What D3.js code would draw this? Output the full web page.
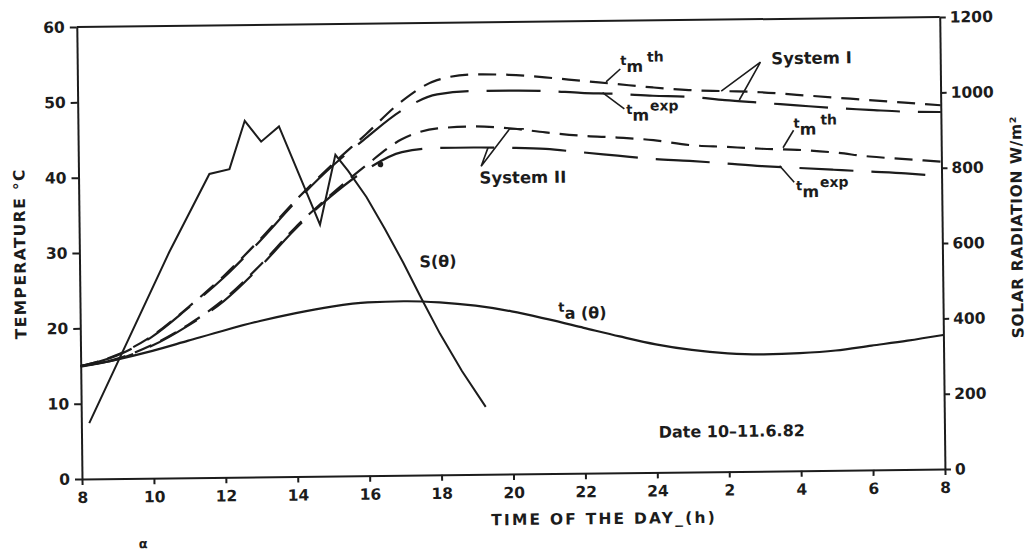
<!DOCTYPE html>
<html>
<head>
<meta charset="utf-8">
<script src="https://cdn.jsdelivr.net/npm/d3@7"></script>
<style>
  body { margin: 0; background: #fff; }
  svg { display: block; }
  .axis text { font-family: "DejaVu Sans", sans-serif; font-size: 15.5px; font-weight: bold; fill: #1c1c1c; }
  .axis path, .axis line { stroke: #1c1c1c; stroke-width: 2; }
  .lbl { font-family: "DejaVu Sans", sans-serif; font-weight: bold; fill: #1c1c1c; }
</style>
</head>
<body>
<div id="chart"></div>
<script>
// hours counted from 8 h on day one to 8 h on the next day
const hours = [8, 9, 10, 11, 12, 13, 14, 15, 16, 17, 18, 19, 20, 21, 22, 23, 24, 25, 26, 27, 28, 29, 30, 31, 32];
const xTicks = [8, 10, 12, 14, 16, 18, 20, 22, 24, 26, 28, 30, 32];
const xTickLabels = ["8", "10", "12", "14", "16", "18", "20", "22", "24", "2", "4", "6", "8"];
const tempTicks = [0, 10, 20, 30, 40, 50, 60];
const radTicks = [0, 200, 400, 600, 800, 1000, 1200];

// ambient temperature t_a (°C)
const ambientTemp = [14.9, 15.8, 16.9, 18.2, 19.5, 20.7, 21.7, 22.5, 23.0, 23.1, 22.9, 22.4, 21.6, 20.5, 19.3, 18.1, 17.0, 16.2, 15.7, 15.5, 15.6, 15.9, 16.5, 17.1, 17.8];
// mean water temperature t_m (°C)
const sys1Theory = [15.0, 16.4, 18.9, 22.6, 26.7, 31.4, 36.5, 41.1, 45.3, 49.6, 52.4, 53.1, 53.0, 52.6, 52.1, 51.6, 51.1, 50.7, 50.5, 50.3, 49.9, 49.5, 49.1, 48.7, 48.3];
const sys1Exp = [15.0, 16.3, 18.8, 22.5, 26.5, 31.2, 36.3, 40.9, 44.8, 48.4, 50.5, 50.9, 50.9, 50.8, 50.5, 50.3, 50.0, 49.8, 49.3, 48.9, 48.5, 48.1, 47.8, 47.5, 47.4];
const sys2Theory = [15.0, 15.9, 17.7, 20.3, 23.6, 28.0, 33.0, 37.3, 41.2, 44.6, 46.0, 46.2, 45.9, 45.3, 44.8, 44.5, 44.1, 43.4, 43.1, 42.8, 42.6, 42.2, 41.6, 41.2, 40.8];
const sys2Exp = [15.0, 15.8, 17.6, 20.2, 23.4, 27.8, 32.8, 37.1, 40.6, 42.9, 43.4, 43.4, 43.3, 43.1, 42.6, 42.1, 41.6, 41.3, 40.9, 40.5, 40.2, 39.9, 39.6, 39.3, 38.9];

// solar radiation S (W/m2)
const solarHours = [8.22, 10.5, 11.64, 12.2, 12.64, 13.09, 13.59, 14.7, 15.15, 15.5, 16.0, 16.5, 17.0, 17.5, 18.0, 18.6, 19.25];
const solarRadiation = [148, 600, 806, 818, 946, 890, 930, 668, 853, 810, 740, 655, 565, 468, 375, 275, 179];

// measured point marked on the System II curve
const markHour = 16.4, markTemp = 41.3;

const width = 1034, height = 556,
  margin = { top: 27, left: 82 },
  chartWidth = 863,
  chartHeight = 452,
  tilt = -0.66; // the scanned page is slightly rotated

const xScale = d3.scaleLinear().domain([8, 32]).range([0, chartWidth]);
const yScale = d3.scaleLinear().domain([0, 60]).range([chartHeight, 0]);
const rScale = d3.scaleLinear().domain([0, 1200]).range([chartHeight, 0]);

const svg = d3.select("#chart").append("svg")
  .attr("width", width)
  .attr("height", height);

const chart = svg.append("g")
  .attr("transform", `rotate(${tilt}, ${margin.left}, ${margin.top + chartHeight}) translate(${margin.left}, ${margin.top})`);

// frame top line
chart.append("line")
  .attr("x1", 0).attr("x2", chartWidth)
  .attr("y1", 0).attr("y2", 0)
  .attr("stroke", "#1c1c1c").attr("stroke-width", 2);

chart.append("g")
  .attr("class", "axis")
  .attr("transform", `translate(0, ${chartHeight})`)
  .call(d3.axisBottom(xScale).tickValues(xTicks).tickSize(6).tickSizeOuter(0).tickPadding(7)
    .tickFormat((d, i) => xTickLabels[i]));

chart.append("g")
  .attr("class", "axis")
  .call(d3.axisLeft(yScale).tickValues(tempTicks).tickSize(7).tickSizeOuter(0).tickPadding(5));

chart.append("g")
  .attr("class", "axis")
  .attr("transform", `translate(${chartWidth}, 0)`)
  .call(d3.axisRight(rScale).tickValues(radTicks).tickSize(6).tickSizeOuter(0).tickPadding(4)
    .tickFormat(d3.format("d")));

// lines
const tLine = d3.line().x((d, i) => xScale(hours[i])).y(d => yScale(d)).curve(d3.curveMonotoneX);

const series = [
  { values: sys1Theory, dash: "18,10" },
  { values: sys1Exp, dash: "54,18" },
  { values: sys2Theory, dash: "18,10" },
  { values: sys2Exp, dash: "54,18" },
  { values: ambientTemp, dash: null }
];

chart.selectAll(".tline")
  .data(series)
  .enter()
  .append("path")
  .attr("class", "tline")
  .attr("fill", "none")
  .attr("stroke", "#1c1c1c")
  .attr("stroke-width", 2.2)
  .attr("stroke-dasharray", d => d.dash)
  .attr("d", d => tLine(d.values));

const sLine = d3.line()
  .x((d, i) => xScale(solarHours[i]))
  .y(d => rScale(d));

chart.append("path")
  .attr("fill", "none")
  .attr("stroke", "#1c1c1c")
  .attr("stroke-width", 2)
  .attr("d", sLine(solarRadiation));

chart.append("circle")
  .attr("cx", xScale(markHour))
  .attr("cy", yScale(markTemp))
  .attr("r", 2.8)
  .attr("fill", "#1c1c1c");

// leader lines for the annotations
const leader = (pts) => chart.append("path")
  .attr("fill", "none")
  .attr("stroke", "#1c1c1c")
  .attr("stroke-width", 1.6)
  .attr("d", d3.line()(pts.map(p => [xScale(p[0]), yScale(p[1])])));

leader([[22.7, 51.9], [23.1, 53.6]]);               // t_m th  (System I)
leader([[22.6, 50.5], [23.2, 48.3]]);               // t_m exp (System I)
leader([[25.9, 50.5], [27.0, 54.3], [26.4, 49.3]]); // System I
leader([[27.6, 42.9], [27.9, 45.2]]);               // t_m th  (System II)
leader([[27.5, 40.5], [27.9, 38.3]]);               // t_m exp (System II)
leader([[19.4, 43.4], [19.2, 40.9], [20.0, 45.8], [20.4, 45.8]]); // System II

// annotation labels with subscripts and superscripts
function tmLabel(x, y, sup) {
  const t = chart.append("text").attr("class", "lbl")
    .attr("x", xScale(x)).attr("y", yScale(y));
  t.append("tspan").attr("font-size", 13).attr("dy", -4).text("t");
  t.append("tspan").attr("font-size", 16).attr("dy", 7).text("m");
  t.append("tspan").attr("font-size", 14).attr("dy", -10).attr("dx", sup === "th" ? 4 : 1).text(sup);
}
tmLabel(23.1, 53.6, "th");
tmLabel(23.25, 47.1, "exp");
tmLabel(27.9, 45.0, "th");
tmLabel(27.95, 36.7, "exp");

chart.append("text").attr("class", "lbl")
  .attr("x", xScale(27.3)).attr("y", yScale(54.0))
  .attr("font-size", 16.5).text("System I");

chart.append("text").attr("class", "lbl")
  .attr("x", xScale(19.15)).attr("y", yScale(38.6))
  .attr("font-size", 16.5).text("System II");

chart.append("text").attr("class", "lbl")
  .attr("x", xScale(17.45)).attr("y", yScale(27.6))
  .attr("font-size", 16).text("S(θ)");

const ta = chart.append("text").attr("class", "lbl")
  .attr("x", xScale(21.3)).attr("y", yScale(20.8));
ta.append("tspan").attr("font-size", 13).attr("dy", -5).text("t");
ta.append("tspan").attr("font-size", 16).attr("dy", 7).text("a (θ)");

chart.append("text").attr("class", "lbl")
  .attr("x", xScale(24.05)).attr("y", yScale(4.6))
  .attr("font-size", 16).text("Date 10–11.6.82");

// axis titles
chart.append("text").attr("class", "lbl")
  .attr("x", chartWidth / 2 + 90).attr("y", chartHeight + 51)
  .attr("text-anchor", "middle")
  .attr("font-size", 15.5).attr("letter-spacing", 2.2)
  .text("TIME OF THE DAY_(h)");

chart.append("text").attr("class", "lbl")
  .attr("transform", `translate(-54, ${yScale(30)}) rotate(-90)`)
  .attr("text-anchor", "middle")
  .attr("font-size", 15.5).attr("letter-spacing", 1.4)
  .text("TEMPERATURE °C");

chart.append("text").attr("class", "lbl")
  .attr("transform", `translate(${chartWidth + 80}, ${rScale(640)}) rotate(-90)`)
  .attr("text-anchor", "middle")
  .attr("font-size", 15.5).attr("letter-spacing", 0.6)
  .text("SOLAR RADIATION  W/m²");

chart.append("text").attr("class", "lbl")
  .attr("x", 56).attr("y", chartHeight + 70)
  .attr("font-size", 13).text("α");
</script>
</body>
</html>
